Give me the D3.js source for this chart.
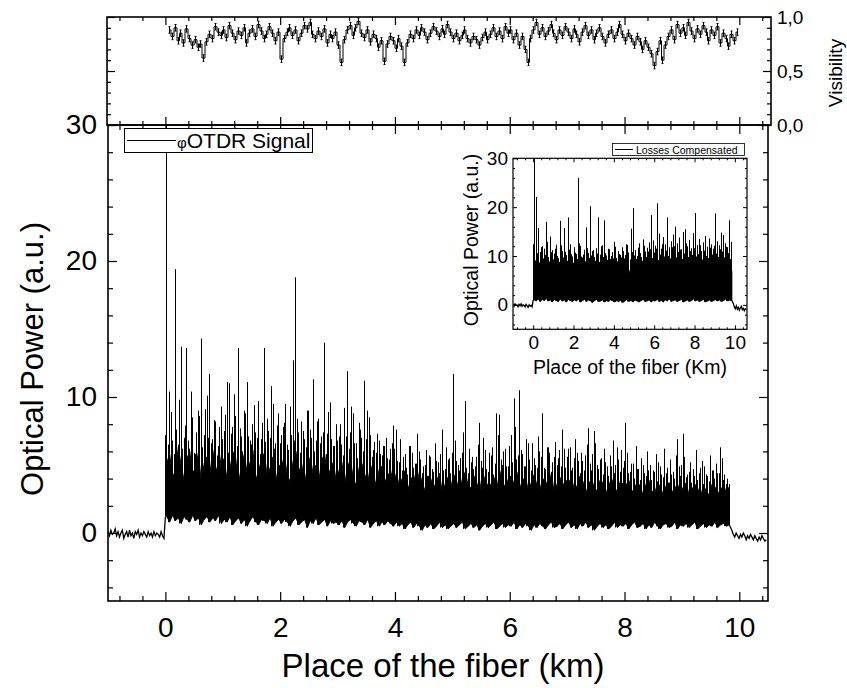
<!DOCTYPE html>
<html><head><meta charset="utf-8">
<script src="https://cdn.jsdelivr.net/npm/d3@7/dist/d3.min.js"></script>
<style>
body{margin:0;background:#fff}
svg{display:block}
text{font-family:"Liberation Sans",Arial,Helvetica,sans-serif;fill:#000}
</style>
</head><body>
<svg id="c" width="847" height="688"></svg>
<script>
// ---------------- DATA ----------------
// main phi-OTDR trace: baseline before fiber start (-1 .. 0 km, step 0.025 km)
const preSignal = [0.1,-0.2,0.2,-0.1,0.0,0.3,-0.2,0.1,-0.3,0.0,0.2,-0.4,-0.1,0.1,-0.3,0.2,-0.2,0.0,-0.4,0.1,
  -0.1,0.2,-0.3,0.0,-0.2,0.1,-0.1,-0.3,0.1,-0.2,0.0,-0.3,0.1,-0.2,0.0,-0.1,-0.3,0.1,-0.2,-0.4];
const preStart = -1, preStep = 0.025;
// fiber section 0 .. 9.85 km, 0.05 km bins: highest peak, second peak, dense-core top and minimum of each bin
const signalBinWidth = 0.05;
const signalMax = [
  31,10.4,6.8,19.4,6.5,13.7,7.0,13.6,6.2,8.5,5.8,9.0,14.3,7.2,10.1,11.7,6.9,8.2,6.4,9.3,
  7.5,11.1,11.0,7.8,8.6,13.6,7.1,9.0,11.1,6.8,8.0,7.4,9.7,6.9,13.6,8.4,7.0,9.5,6.6,8.8,
  7.2,8.1,6.5,9.3,12.7,18.8,7.4,8.2,6.9,9.0,7.6,11.3,6.8,8.4,7.1,14.0,7.3,9.6,6.4,8.0,
  7.1,6.5,9.2,11.9,7.4,8.8,6.6,8.1,7.0,11.2,9.0,7.2,6.1,5.9,6.8,5.7,6.4,5.5,6.2,7.9,
  7.6,5.2,4.6,5.8,4.3,6.4,4.8,5.1,6.0,4.4,5.0,4.2,5.6,4.5,5.3,4.1,7.6,4.7,5.4,4.4,
  11.7,5.3,4.6,5.9,9.7,4.4,5.2,4.7,5.6,8.1,4.8,6.1,4.5,5.7,4.3,8.8,8.7,5.0,6.2,4.9,
  7.2,9.9,5.4,10.5,5.8,4.9,6.6,4.6,5.5,4.8,6.0,8.8,4.7,6.3,4.5,5.6,5.0,6.1,7.6,4.8,
  6.2,4.6,5.5,5.9,4.4,5.3,5.7,7.7,4.6,7.5,5.0,5.4,4.3,5.2,4.2,4.9,4.4,6.3,4.5,4.8,
  8.1,4.4,5.1,4.0,4.7,3.9,5.0,4.2,4.6,3.9,4.5,3.8,4.9,4.1,4.4,3.7,4.3,4.0,6.9,4.2,
  7.3,4.1,4.5,3.7,4.2,3.9,4.8,3.6,4.3,3.8,4.6,4.0,4.4,6.3,3.9,3.6,3.6];
const signalPeak2 = [
  7.2,6.5,8.9,5.8,7.6,9.8,6.2,7.9,6.8,10.4,5.9,7.4,8.6,6.3,9.1,7.0,6.6,8.3,5.7,7.8,
  6.9,8.7,5.9,7.3,10.2,6.4,7.7,6.0,8.8,7.1,6.5,9.4,7.0,5.8,8.1,6.7,7.5,10.8,6.2,7.9,
  6.6,7.8,9.5,6.1,7.2,6.8,8.4,5.9,7.5,6.3,9.0,7.0,6.0,8.2,6.6,7.4,5.8,8.9,6.9,6.4,
  6.8,8.0,5.7,7.1,6.2,9.3,6.6,5.5,7.6,6.0,6.9,8.5,5.6,6.7,7.3,5.8,6.4,7.0,5.4,6.6,
  6.2,5.3,6.9,5.6,4.8,6.4,5.9,5.1,7.3,5.4,4.9,6.1,5.7,4.7,6.6,5.2,5.8,4.6,6.3,5.5,
  5.9,6.8,5.0,5.5,7.4,4.8,6.2,5.6,4.9,6.5,5.3,7.0,4.7,5.9,6.3,5.1,7.2,5.4,6.0,4.9,
  6.4,5.2,7.8,5.7,6.1,4.9,6.9,5.4,6.6,5.0,7.1,5.6,4.8,6.3,5.9,5.2,6.7,5.5,4.9,6.2,
  5.6,6.3,4.8,6.9,5.3,5.9,4.6,6.5,5.1,5.8,6.6,4.7,5.5,6.2,4.9,5.7,6.8,5.0,5.4,6.1,
  5.3,5.9,4.5,5.1,6.4,4.7,5.5,4.4,6.0,5.0,4.6,5.8,5.2,4.3,6.2,4.8,5.4,4.5,5.7,4.9,
  5.0,5.6,4.3,5.2,4.7,6.1,4.4,5.3,4.9,4.2,5.7,4.6,5.1,4.4,5.5,4.3,4.0];
const signalCore = [
  5.2,5.8,4.1,4.6,6.3,5.0,3.9,5.5,6.0,4.4,4.8,5.9,3.8,5.1,5.6,4.3,6.1,4.9,4.2,5.7,
  5.3,4.0,4.7,6.0,5.5,3.7,4.9,5.8,4.4,5.2,6.1,3.9,4.6,5.4,5.9,4.1,4.8,5.6,3.8,5.0,
  4.9,5.7,4.2,3.8,5.3,6.0,4.5,5.1,3.7,4.8,5.6,4.3,5.0,3.9,5.4,5.8,4.1,4.7,5.2,3.9,
  4.6,5.2,3.6,4.9,5.4,4.0,3.5,4.8,5.1,4.3,3.7,5.0,4.4,3.4,4.7,4.9,3.8,4.2,4.6,3.6,
  4.4,3.5,4.0,4.6,3.2,3.9,4.3,3.4,4.5,3.7,3.1,4.2,4.0,3.3,3.8,4.4,3.0,3.6,4.1,3.4,
  4.3,3.8,3.1,4.0,4.5,3.5,3.3,4.2,3.7,3.0,4.4,3.9,3.4,3.6,4.1,3.2,4.6,3.8,3.3,4.0,
  4.2,3.6,4.5,3.3,3.9,4.1,3.1,3.7,4.3,3.5,3.2,4.0,3.8,3.4,4.4,3.0,3.6,4.1,3.5,3.9,
  3.7,4.1,3.2,3.5,4.2,3.8,2.9,3.6,4.0,3.3,3.1,3.9,3.7,2.9,3.5,4.0,3.4,3.0,3.8,3.6,
  3.5,3.9,3.0,3.3,3.8,3.4,2.8,3.6,3.9,3.1,2.9,3.7,3.4,2.8,3.5,3.7,3.0,3.3,3.6,2.9,
  3.4,3.7,2.8,3.2,3.6,3.3,2.7,3.5,3.1,2.8,3.6,3.4,2.9,3.2,3.5,3.0,3.4];
const signalMin = [
  1.2,0.8,1.3,0.9,1.1,0.7,1.2,1.0,0.8,1.3,0.9,1.1,0.6,1.0,1.2,0.8,1.1,0.9,1.3,0.7,
  1.0,0.8,1.2,0.6,0.9,1.1,0.7,1.0,0.5,0.9,1.2,0.8,0.6,1.0,0.9,0.7,1.1,0.5,0.8,1.0,
  0.7,1.0,0.8,0.5,0.9,1.1,0.6,0.8,1.0,0.4,0.9,0.7,1.1,0.6,0.8,1.0,0.5,0.9,0.7,0.8,
  0.6,0.9,0.4,0.8,1.0,0.7,0.5,0.9,0.8,0.6,1.0,0.4,0.7,0.9,0.5,0.8,0.6,0.9,0.7,0.5,
  0.8,0.5,0.7,0.3,0.6,0.8,0.4,0.7,0.5,0.2,0.6,0.4,0.7,0.3,0.5,0.8,0.4,0.6,0.3,0.5,
  0.7,0.4,0.6,0.8,0.3,0.5,0.7,0.4,0.6,0.2,0.5,0.7,0.4,0.6,0.8,0.3,0.5,0.7,0.4,0.6,
  0.5,0.8,0.3,0.6,0.4,0.7,0.5,0.2,0.6,0.4,0.7,0.5,0.3,0.6,0.8,0.4,0.5,0.7,0.3,0.6,
  0.8,0.4,0.6,0.3,0.7,0.5,0.8,0.4,0.6,0.2,0.5,0.7,0.4,0.6,0.3,0.5,0.8,0.4,0.6,0.5,
  0.7,0.3,0.6,0.8,0.4,0.5,0.7,0.3,0.6,0.4,0.8,0.5,0.3,0.6,0.7,0.4,0.5,0.8,0.3,0.6,
  0.5,0.7,0.4,0.6,0.8,0.3,0.5,0.7,0.4,0.6,0.5,0.8,0.4,0.6,0.7,0.5,0.6];
// after fiber end (9.87 .. 10.5 km, step 0.025 km)
const tailSignal = [0.2,-0.1,-0.3,0.0,-0.2,-0.4,-0.1,-0.3,0.0,-0.2,-0.5,-0.2,-0.4,-0.1,-0.3,-0.5,-0.2,-0.4,-0.6,-0.3,-0.5,-0.2,-0.4,-0.6,-0.5];
const tailStart = 9.87, tailStep = 0.025;

// inset: losses compensated trace
const insetPre = [0.1,-0.3,0.2,-0.1,0.0,-0.4,0.1,-0.2,0.2,-0.3,0.0,-0.1,-0.4,0.1,-0.2,-0.5,0.0,-0.3,-0.1,-0.4];
const insetPreStart = -1, insetPreStep = 0.05;
const insetBinWidth = 0.1;
const insetMax = [
  31,22.1,15.7,10.8,12.0,11.5,17.0,9.8,14.0,11.2,
  10.5,12.3,9.6,17.2,11.0,15.7,10.2,17.9,12.4,9.9,
  11.8,10.4,26.0,12.1,9.7,11.3,15.9,10.6,20.2,11.0,
  9.8,11.6,17.9,10.3,12.2,17.3,10.1,11.5,9.4,10.8,
  12.9,9.6,11.0,10.2,11.8,9.5,12.4,10.7,15.6,19.8,
  11.2,10.0,12.6,9.8,13.4,10.9,11.7,12.8,18.4,13.2,
  12.1,20.8,14.6,11.5,13.9,12.4,17.9,11.8,13.0,14.4,
  16.0,12.6,13.8,11.4,14.9,15.5,12.0,13.3,11.6,14.7,
  18.8,12.2,13.5,11.0,12.8,14.1,11.9,13.6,12.4,11.5,
  18.7,13.0,12.2,14.8,14.3,12.6,11.8,17.3,12.9];
const insetPeak2 = [
  12.4,9.1,10.6,8.7,11.8,9.5,10.2,12.9,8.9,10.8,
  9.3,11.5,10.0,8.8,12.2,9.7,10.9,9.0,11.3,10.4,
  8.6,10.7,9.4,12.6,9.9,10.3,8.9,11.6,9.6,10.1,
  11.2,9.0,10.5,8.8,12.0,9.8,10.6,9.2,11.4,10.0,
  9.5,11.9,8.9,10.4,9.7,11.0,10.2,12.3,9.3,10.8,
  10.1,9.4,11.7,10.6,9.0,12.1,9.8,10.9,11.4,9.6,
  10.7,11.5,9.2,10.3,12.4,9.9,11.1,10.0,9.5,11.8,
  12.0,9.7,10.8,11.3,9.4,10.5,12.6,9.8,11.0,10.2,
  11.6,9.9,10.4,12.2,9.3,11.1,10.0,9.6,11.7,10.3,
  12.1,10.5,9.8,11.4,10.9,9.7,11.9,10.6,9.4];
const insetCore = [
  7.8,6.2,5.5,8.1,7.0,5.8,8.4,6.6,5.3,7.5,
  8.0,6.0,5.6,7.7,8.3,6.4,5.9,7.2,8.6,6.1,
  5.7,7.9,6.8,5.4,8.2,7.3,6.0,5.8,8.5,6.9,
  6.3,5.5,7.6,8.1,6.2,5.9,7.8,7.1,5.6,8.0,
  6.7,6.0,8.3,7.4,5.7,6.5,8.6,7.0,6.1,5.8,
  8.2,7.5,6.3,5.9,8.7,6.8,6.0,7.7,8.4,6.2,
  5.9,8.1,7.3,6.4,8.8,6.6,5.8,7.9,8.2,6.5,
  6.1,7.6,8.5,6.3,5.9,8.0,7.2,6.6,8.3,6.0,
  5.7,8.4,7.1,6.2,8.6,6.9,5.8,7.8,8.1,6.4,
  6.0,8.3,7.4,5.9,8.5,6.7,6.2,7.9,6.8];
const insetMin = [
  1.0,0.8,1.2,0.7,1.1,0.9,1.3,0.8,1.0,0.6,
  1.1,0.9,0.7,1.2,0.8,1.0,0.6,1.1,0.9,0.7,
  1.0,0.8,1.2,0.6,0.9,1.1,0.7,1.0,0.8,0.5,
  0.9,1.1,0.7,0.8,1.0,0.6,0.9,0.7,1.1,0.8,
  0.6,0.9,0.7,1.0,0.5,0.8,1.1,0.7,0.9,0.6,
  1.0,0.8,0.6,0.9,1.1,0.7,0.8,1.0,0.6,0.9,
  0.8,1.1,0.7,0.9,0.6,1.0,0.8,1.2,0.7,0.9,
  1.0,0.7,0.9,1.1,0.6,0.8,1.0,0.7,0.9,1.2,
  0.8,1.0,0.7,0.9,1.1,0.6,0.8,1.0,0.7,0.9,
  1.1,0.8,1.0,0.7,0.9,1.2,0.8,1.0,0.9];
const insetTail = [0.3,-0.4,-0.8,-0.2,-0.9,-0.5,-1.1,-0.6,-0.3,-1.0,-0.7,-1.2,-0.8,-1.0];
const insetTailStart = 9.92, insetTailStep = 0.05;

// visibility (top panel), 0.07 .. 9.97 km
const visStart = 0.07, visEnd = 9.97;
const visibility = [
  0.88,0.82,0.90,0.78,0.85,0.76,0.89,0.80,0.74,0.79,0.72,0.75,0.62,0.77,0.84,0.80,0.91,0.86,0.83,
  0.88,0.81,0.92,0.85,0.79,0.87,0.83,0.90,0.76,0.85,0.89,0.82,0.93,0.87,0.80,0.84,0.91,0.85,0.78,0.86,
  0.61,
  0.80,0.86,0.90,0.83,0.88,0.78,0.85,0.92,0.89,0.95,0.84,0.80,0.87,0.82,0.89,0.76,0.84,0.80,0.86,
  0.74,0.58,
  0.79,0.88,0.92,0.83,0.90,0.96,0.85,0.81,0.88,0.77,0.84,0.80,0.72,0.78,0.59,0.75,
  0.82,0.78,0.71,0.80,0.73,0.58,
  0.76,0.84,0.80,0.88,0.83,0.90,0.86,0.79,0.85,0.91,0.87,0.82,0.89,0.84,0.93,0.86,0.80,
  0.85,0.78,0.83,0.88,0.80,0.76,0.82,0.79,0.74,0.81,0.86,0.79,0.84,0.90,0.82,0.87,0.80,0.91,0.85,0.88,
  0.79,0.85,0.74,0.82,0.70,0.58,
  0.80,0.88,0.95,0.84,0.90,0.82,0.87,0.93,0.85,0.79,0.88,0.83,0.91,0.86,
  0.80,0.89,0.84,0.77,0.86,0.92,0.83,0.88,0.79,0.85,0.90,0.82,0.76,0.84,0.88,0.80,0.86,0.93,0.84,0.78,
  0.85,0.80,0.74,0.82,0.77,0.70,0.78,0.72,0.66,0.55,0.68,0.78,0.60,
  0.74,0.82,0.88,0.79,0.93,0.85,0.90,0.83,0.95,0.87,0.80,0.89,0.84,0.92,0.86,0.78,0.88,0.83,0.91,0.76,0.85,0.80,0.73,0.84,0.78,0.86];
const visError = 0.03;

// tick labels
const mainXTicks = [0,2,4,6,8,10];
const mainYTicks = [0,10,20,30];
const visTicks = [0,0.5,1.0];
const insetXTicks = [0,2,4,6,8,10];
const insetYTicks = [0,10,20,30];

// ---------------- DRAW ----------------
const svg = d3.select("#c");
const FONT = '"Liberation Sans",Arial,Helvetica,sans-serif';

const x = d3.scaleLinear().domain([-1, 10.5]).range([108, 768]);
const y = d3.scaleLinear().domain([-5, 30]).range([601, 125]);
const yv = d3.scaleLinear().domain([0, 1]).range([125, 17]);
const xi = d3.scaleLinear().domain([-1, 10.6]).range([513, 747]);
const yi = d3.scaleLinear().domain([-5, 30]).range([329.3, 158.3]);

const snap = v => Math.round(v - 0.5) + 0.5;

function drawTrace(xs, ys, clip, pre, preS, preD, mx, pk2, core, mn, bw, tail, tS, tD) {
  const g = svg.append("g").attr("clip-path", clip);
  const bins = mx.map((v, i) => ({ x0: i * bw, x: i * bw + bw * 0.5, max: v, pk2: pk2[i], core: core[i], min: mn[i] }));
  const prePts = pre.map((v, i) => [preS + i * preD, v]);
  prePts.push([bins[0].x0, bins[0].min]);
  const tailPts = [[bins[bins.length - 1].x, bins[bins.length - 1].min]].concat(tail.map((v, i) => [tS + i * tD, v]));
  const ln = d3.line().x(d => xs(d[0])).y(d => ys(d[1]));
  [prePts, tailPts].forEach(p => g.append("path").attr("d", ln(p))
    .attr("fill", "none").attr("stroke", "#000").attr("stroke-width", 1.3));
  g.append("path").attr("d", d3.area().x(d => xs(d.x)).y0(d => ys(d.min)).y1(d => ys(d.core))(bins))
    .attr("fill", "#000").attr("stroke", "#000").attr("stroke-width", 0.9);
  g.selectAll("line.p2").data(bins).join("line").attr("class", "p2")
    .attr("x1", d => snap(xs(d.x0))).attr("x2", d => snap(xs(d.x0)))
    .attr("y1", d => ys(d.min)).attr("y2", d => ys(d.pk2))
    .attr("stroke", "#000").attr("stroke-width", 1);
  g.selectAll("line.pk").data(bins).join("line").attr("class", "pk")
    .attr("x1", d => snap(xs(d.x))).attr("x2", d => snap(xs(d.x)))
    .attr("y1", d => ys(d.min)).attr("y2", d => ys(d.max))
    .attr("stroke", "#000").attr("stroke-width", 1);
}

function drawAxis(gen, scale, values, size, tx, ty, fmt, fs, pad, sw) {
  const a = gen(scale).tickValues(values).tickSize(size).tickSizeOuter(0).tickPadding(pad);
  a.tickFormat(fmt || (() => ""));
  const g = svg.append("g").attr("transform", `translate(${tx},${ty})`).call(a);
  g.select(".domain").remove();
  g.selectAll("line").attr("stroke", "#000").attr("stroke-width", sw || 1.2);
  g.selectAll("text").attr("font-size", fs || 10).attr("font-family", FONT).attr("fill", "#000");
  return g;
}
function minorVals(start, stop, step, majors) {
  const out = [];
  for (let k = 0; start + k * step <= stop + 1e-9; k++) {
    const v = Math.round((start + k * step) * 1000) / 1000;
    if (!majors.some(m => Math.abs(m - v) < 1e-6)) out.push(v);
  }
  return out;
}

// clip paths
const defs = svg.append("defs");
defs.append("clipPath").attr("id", "clipMain").append("rect")
  .attr("x", 108).attr("y", 125).attr("width", 660).attr("height", 476);
defs.append("clipPath").attr("id", "clipInset").append("rect")
  .attr("x", 513).attr("y", 158.3).attr("width", 234).attr("height", 171);

// ---- main trace
drawTrace(x, y, "url(#clipMain)", preSignal, preStart, preStep, signalMax, signalPeak2, signalCore, signalMin,
  signalBinWidth, tailSignal, tailStart, tailStep);

// ---- main frame and ticks
svg.append("rect").attr("x", 108).attr("y", 125).attr("width", 660).attr("height", 476)
  .attr("fill", "none").attr("stroke", "#000").attr("stroke-width", 1.6);
const mainXMinor = minorVals(-0.8, 10.4, 0.4, mainXTicks);
const mainYMinor = minorVals(-4, 28, 2, mainYTicks);
drawAxis(d3.axisBottom, x, mainXTicks, -9, 0, 601, d => d, 28, 16);
drawAxis(d3.axisBottom, x, mainXMinor, -5, 0, 601);
drawAxis(d3.axisTop, x, mainXTicks, -9, 0, 125);
drawAxis(d3.axisTop, x, mainXMinor, -5, 0, 125);
drawAxis(d3.axisLeft, y, mainYTicks, -9, 108, 0, d => d, 28, 11);
drawAxis(d3.axisLeft, y, mainYMinor, -5, 108, 0);
drawAxis(d3.axisRight, y, mainYTicks, -9, 768, 0);
drawAxis(d3.axisRight, y, mainYMinor, -5, 768, 0);

svg.append("text").attr("x", 443).attr("y", 677).attr("text-anchor", "middle")
  .attr("font-size", 33).text("Place of the fiber (km)");
svg.append("text").attr("transform", "translate(43,359) rotate(-90)").attr("text-anchor", "middle")
  .attr("font-size", 31).text("Optical Power (a.u.)");

// ---- main legend
svg.append("rect").attr("x", 124.5).attr("y", 128.5).attr("width", 188).attr("height", 24)
  .attr("fill", "#fff").attr("stroke", "#000").attr("stroke-width", 1);
svg.append("line").attr("x1", 127).attr("x2", 176).attr("y1", 140.5).attr("y2", 140.5)
  .attr("stroke", "#000").attr("stroke-width", 1);
const lt = svg.append("text").attr("x", 177).attr("y", 148).attr("font-size", 21);
lt.append("tspan").attr("font-size", 15).text("φ");
lt.append("tspan").text("OTDR Signal");

// ---- top panel (visibility)
svg.append("rect").attr("x", 107).attr("y", 17).attr("width", 664).attr("height", 108)
  .attr("fill", "none").attr("stroke", "#000").attr("stroke-width", 1.6);
const visMinor = minorVals(0.1, 0.9, 0.1, visTicks);
drawAxis(d3.axisBottom, x, mainXTicks, -8, 0, 125);
drawAxis(d3.axisBottom, x, mainXMinor, -4, 0, 125);
drawAxis(d3.axisTop, x, mainXTicks, -8, 0, 17);
drawAxis(d3.axisTop, x, mainXMinor, -4, 0, 17);
drawAxis(d3.axisLeft, yv, visTicks, -8, 107, 0);
drawAxis(d3.axisLeft, yv, visMinor, -4, 107, 0);
drawAxis(d3.axisRight, yv, visTicks, -8, 771, 0, d => d.toFixed(1).replace(".", ","), 19, 6);
drawAxis(d3.axisRight, yv, visMinor, -4, 771, 0);
svg.append("text").attr("transform", "translate(842,73) rotate(-90)").attr("text-anchor", "middle")
  .attr("font-size", 19).text("Visibility");

const visStep = (visEnd - visStart) / (visibility.length - 1);
const visPts = visibility.map((v, i) => [visStart + i * visStep, v]);
svg.append("path")
  .attr("d", d3.line().curve(d3.curveStep).x(d => snap(x(d[0]))).y(d => yv(d[1]))(visPts))
  .attr("fill", "none").attr("stroke", "#000").attr("stroke-width", 1);
const eb = svg.append("g").attr("stroke", "#000").attr("stroke-width", 1);
visPts.forEach(d => {
  const px = snap(x(d[0])), y1 = yv(d[1] + visError), y2 = yv(d[1] - visError);
  eb.append("line").attr("x1", px).attr("x2", px).attr("y1", y1).attr("y2", y2);
  eb.append("line").attr("x1", px - 1).attr("x2", px + 1).attr("y1", y1).attr("y2", y1);
  eb.append("line").attr("x1", px - 1).attr("x2", px + 1).attr("y1", y2).attr("y2", y2);
});

// ---- inset
svg.append("rect").attr("x", 513).attr("y", 158.3).attr("width", 234).attr("height", 171)
  .attr("fill", "#fff");
drawTrace(xi, yi, "url(#clipInset)", insetPre, insetPreStart, insetPreStep, insetMax, insetPeak2, insetCore, insetMin,
  insetBinWidth, insetTail, insetTailStart, insetTailStep);
svg.append("rect").attr("x", 513).attr("y", 158.3).attr("width", 234).attr("height", 171)
  .attr("fill", "none").attr("stroke", "#000").attr("stroke-width", 1.2);
const insXMinor = minorVals(-0.8, 10.4, 0.4, insetXTicks);
const insYMinor = minorVals(-4, 28, 2, insetYTicks);
drawAxis(d3.axisBottom, xi, insetXTicks, -4, 0, 329.3, d => d, 19, 6, 1);
drawAxis(d3.axisBottom, xi, insXMinor, -2, 0, 329.3, null, 10, 3, 1);
drawAxis(d3.axisTop, xi, insetXTicks, -4, 0, 158.3, null, 10, 3, 1);
drawAxis(d3.axisTop, xi, insXMinor, -2, 0, 158.3, null, 10, 3, 1);
drawAxis(d3.axisLeft, yi, insetYTicks, -4, 513, 0, d => d, 19, 5, 1);
drawAxis(d3.axisLeft, yi, insYMinor, -2, 513, 0, null, 10, 3, 1);
drawAxis(d3.axisRight, yi, insetYTicks, -4, 747, 0, null, 10, 3, 1);
drawAxis(d3.axisRight, yi, insYMinor, -2, 747, 0, null, 10, 3, 1);
svg.append("text").attr("x", 630).attr("y", 374).attr("text-anchor", "middle")
  .attr("font-size", 19.5).text("Place of the fiber (Km)");
svg.append("text").attr("transform", "translate(478,240) rotate(-90)").attr("text-anchor", "middle")
  .attr("font-size", 19.5).text("Optical Power (a.u.)");
// inset legend
svg.append("rect").attr("x", 612.5).attr("y", 143.5).attr("width", 132).attr("height", 12)
  .attr("fill", "#fff").attr("stroke", "#000").attr("stroke-width", 0.8);
svg.append("line").attr("x1", 615).attr("x2", 633).attr("y1", 149.5).attr("y2", 149.5)
  .attr("stroke", "#000").attr("stroke-width", 1);
svg.append("text").attr("x", 636).attr("y", 153.5).attr("font-size", 10.5).text("Losses Compensated");
</script>
</body></html>
